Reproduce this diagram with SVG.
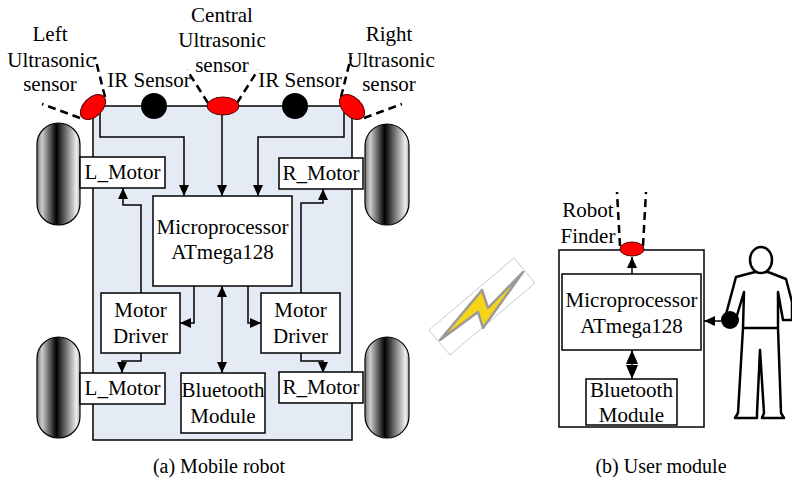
<svg xmlns="http://www.w3.org/2000/svg" width="792" height="496" viewBox="0 0 792 496">
  <style>
    .t { font-family: "Liberation Serif", "Times New Roman", serif; font-size: 21px; fill: #000; text-anchor: middle; }
    .cap { font-family: "Liberation Serif", "Times New Roman", serif; font-size: 20px; fill: #000; text-anchor: middle; }
    .box { fill: #fff; stroke: #000; stroke-width: 1.5; }
    .wire { fill: none; stroke: #000; stroke-width: 1.5; }
    .dash { fill: none; stroke: #000; stroke-width: 2.5; stroke-dasharray: 8 5; }
    .us { fill: #f00; stroke: #500; stroke-width: 1; }
    .wheel { fill: url(#tyre); stroke: #000; stroke-width: 1.2; }
  </style>
  <defs>
    <linearGradient id="tyre" x1="0" y1="0" x2="1" y2="0">
      <stop offset="0" stop-color="#777"/>
      <stop offset="0.12" stop-color="#ccc"/>
      <stop offset="0.45" stop-color="#000"/>
      <stop offset="0.75" stop-color="#999"/>
      <stop offset="0.92" stop-color="#eee"/>
      <stop offset="1" stop-color="#aaa"/>
    </linearGradient>
    <marker id="arr" markerUnits="userSpaceOnUse" markerWidth="11" markerHeight="10" refX="11" refY="5" orient="auto">
      <path d="M0,0 L11,5 L0,10 Z" fill="#000"/>
    </marker>
    <marker id="arrs" markerUnits="userSpaceOnUse" markerWidth="11" markerHeight="10" refX="11" refY="5" orient="auto-start-reverse">
      <path d="M0,0 L11,5 L0,10 Z" fill="#000"/>
    </marker>
  </defs>

  <!-- chassis -->
  <g id="chassis">
    <rect x="93" y="106" width="259" height="334" fill="#e5ebf5" stroke="#000" stroke-width="1.5"/>
  </g>

  <!-- user module housing -->
  <g id="user-module">
    <rect class="box" x="559" y="250" width="145" height="177"/>
  </g>

  <!-- wheels -->
  <g id="wheel-fl"><rect class="wheel" x="37" y="123" width="43" height="102" rx="21.5" ry="21.5"/></g>
  <g id="wheel-fr"><rect class="wheel" x="365" y="124" width="44" height="101" rx="22" ry="22"/></g>
  <g id="wheel-rl"><rect class="wheel" x="37" y="337" width="43" height="101" rx="21.5" ry="21.5"/></g>
  <g id="wheel-rr"><rect class="wheel" x="365" y="337" width="44" height="101" rx="22" ry="22"/></g>

  <!-- connectors -->
  <g id="connectors">
    <path class="wire" d="M100,112 V137 H184 V196" marker-end="url(#arr)"/>
    <path class="wire" d="M222,115 V196" marker-end="url(#arr)"/>
    <path class="wire" d="M344,112 V137 H258 V196" marker-end="url(#arr)"/>
    <path class="wire" d="M141,293 V205 H123 V188" marker-end="url(#arr)"/>
    <path class="wire" d="M301,293 V203 H323 V189" marker-end="url(#arr)"/>
    <path class="wire" d="M194,286 V323 H180" marker-end="url(#arr)"/>
    <path class="wire" d="M248,286 V323 H261" marker-end="url(#arr)"/>
    <path class="wire" d="M141,353 V361 H122 V373" marker-end="url(#arr)"/>
    <path class="wire" d="M301,353 V361 H323 V373" marker-end="url(#arr)"/>
    <path class="wire" d="M222,286 V373" marker-start="url(#arrs)" marker-end="url(#arrs)"/>
    <!-- user module links -->
    <path class="wire" d="M632,274 V257" marker-end="url(#arr)"/>
    <path class="wire" d="M632,350 V379"/>
    <path d="M632,350 L626,364 L638,364 Z M632,379 L626,365 L638,365 Z" fill="#000"/>
    <path class="wire" d="M721,321 H704" marker-end="url(#arr)"/>
  </g>

  <!-- sensor beams -->
  <g id="beams">
    <path class="dash" d="M105,97 L95,57"/>
    <path class="dash" d="M80,118 L42,104"/>
    <path class="dash" d="M208,103 L187,70"/>
    <path class="dash" d="M237,103 L258,70"/>
    <path class="dash" d="M341,97 L351,57"/>
    <path class="dash" d="M364,118 L402,104"/>
    <path class="dash" d="M620,246 L617,192"/>
    <path class="dash" d="M643,246 L646,192"/>
  </g>

  <!-- sensors -->
  <g id="us-left"><ellipse class="us" cx="0" cy="0" rx="15" ry="9.5" transform="translate(93,107) rotate(-45)"/></g>
  <g id="ir-left"><circle cx="154" cy="106" r="13" fill="#000"/></g>
  <g id="us-center"><ellipse class="us" cx="223" cy="106" rx="16" ry="9"/></g>
  <g id="ir-right"><circle cx="295" cy="106" r="13" fill="#000"/></g>
  <g id="us-right"><ellipse class="us" cx="0" cy="0" rx="15" ry="9.5" transform="translate(352,107) rotate(45)"/></g>

  <!-- sensor labels -->
  <g id="labels">
    <text class="t" x="50" y="41">Left</text>
    <text class="t" x="51" y="67">Ultrasonic</text>
    <text class="t" x="50" y="91">sensor</text>
    <text class="t" x="222" y="22">Central</text>
    <text class="t" x="222" y="47">Ultrasonic</text>
    <text class="t" x="222" y="72">sensor</text>
    <text class="t" x="149" y="87">IR Sensor</text>
    <text class="t" x="300" y="87">IR Sensor</text>
    <text class="t" x="389" y="41">Right</text>
    <text class="t" x="391" y="67">Ultrasonic</text>
    <text class="t" x="389" y="91">sensor</text>
  </g>

  <!-- robot blocks -->
  <g id="lmotor-front"><rect class="box" x="80" y="157" width="85" height="31"/><text class="t" x="122.5" y="179">L_Motor</text></g>
  <g id="rmotor-front"><rect class="box" x="279" y="158" width="84" height="31"/><text class="t" x="321" y="180">R_Motor</text></g>
  <g id="mcu"><rect class="box" x="153" y="196" width="139" height="90"/><text class="t" x="222.5" y="234">Microprocessor</text><text class="t" x="222.5" y="259">ATmega128</text></g>
  <g id="driver-left"><rect class="box" x="101" y="293" width="79" height="60"/><text class="t" x="140.5" y="317">Motor</text><text class="t" x="140.5" y="343">Driver</text></g>
  <g id="driver-right"><rect class="box" x="261" y="293" width="79" height="60"/><text class="t" x="300.5" y="317">Motor</text><text class="t" x="300.5" y="343">Driver</text></g>
  <g id="lmotor-rear"><rect class="box" x="80" y="373" width="85" height="31"/><text class="t" x="122.5" y="395">L_Motor</text></g>
  <g id="rmotor-rear"><rect class="box" x="279" y="372" width="84" height="31"/><text class="t" x="321" y="394">R_Motor</text></g>
  <g id="bt-robot"><rect class="box" x="181" y="373" width="84" height="60"/><text class="t" x="223" y="397">Bluetooth</text><text class="t" x="223" y="423">Module</text></g>

  <!-- wireless link -->
  <g id="link">
    <polygon points="429,330 514,258 535,283 450,355" fill="#fff" stroke="#bbb" stroke-width="0.8"/>
    <polygon points="440,340 482,290 488,308 523,272 483,328 478,312" fill="#f7d417" stroke="#9a9a9a" stroke-width="2.5" stroke-linejoin="round"/>
  </g>

  <!-- user module contents -->
  <g id="finder"><ellipse class="us" cx="632" cy="249" rx="12" ry="7"/></g>
  <g id="finder-label"><text class="t" x="588" y="217">Robot</text><text class="t" x="588" y="243">Finder</text></g>
  <g id="mcu-user"><rect class="box" x="562" y="274" width="139" height="76"/><text class="t" x="631.5" y="307">Microprocessor</text><text class="t" x="631.5" y="333">ATmega128</text></g>
  <g id="bt-user"><rect class="box" x="586" y="379" width="91" height="46"/><text class="t" x="631.5" y="397">Bluetooth</text><text class="t" x="631.5" y="422">Module</text></g>

  <!-- user -->
  <g id="user">
    <path d="M755,272 L736,277 L725,318 L735,322 L744,292 L743,328 L738,413 L735,418 L757,418 L757,413 L760,350 L764,413 L762,418 L784,418 L781,413 L778,328 L778,292 L783,320 L792,320 L792,302 L786,279 L768,272 Z" fill="#fff" stroke="#000" stroke-width="2.5" stroke-linejoin="round"/>
    <path d="M743,328 H778" fill="none" stroke="#000" stroke-width="2.5"/>
    <ellipse cx="761" cy="260" rx="11" ry="13" fill="#fff" stroke="#000" stroke-width="2.5"/>
    <circle cx="730" cy="320" r="9" fill="#000"/>
  </g>

  <!-- captions -->
  <text class="cap" x="219" y="473">(a) Mobile robot</text>
  <text class="cap" x="661" y="473">(b) User module</text>
</svg>
